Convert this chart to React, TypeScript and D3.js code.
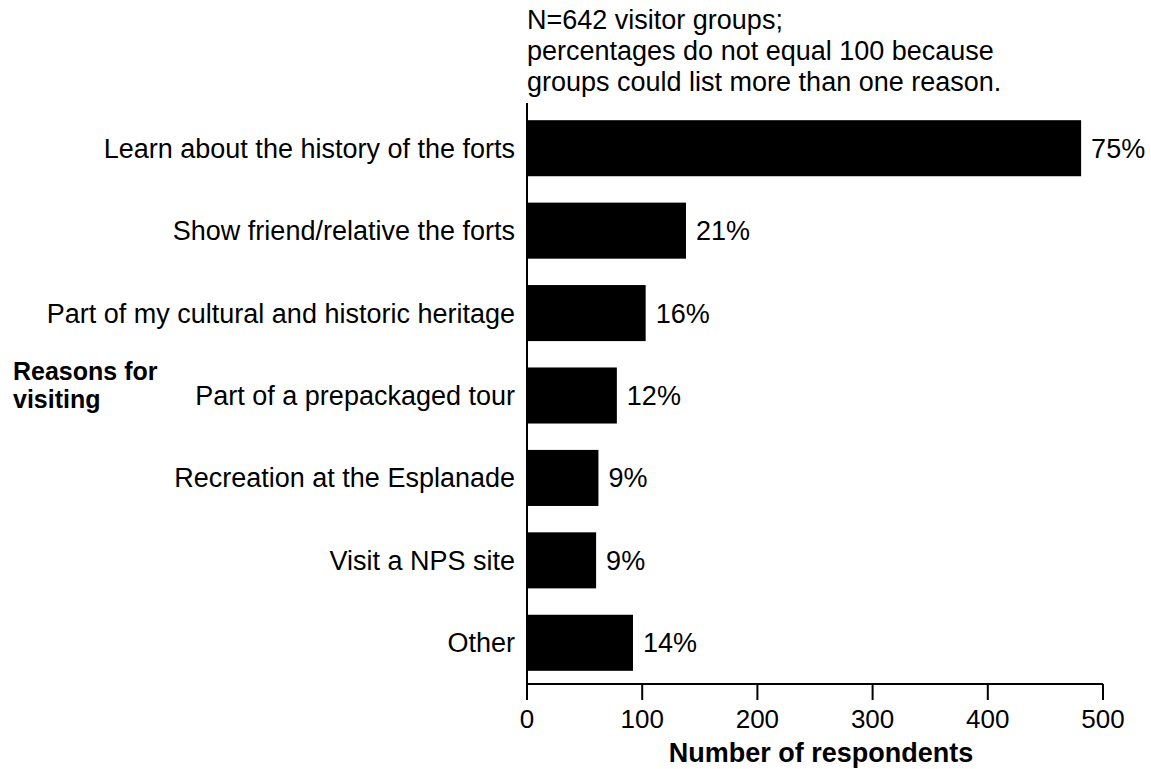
import React from "react";
import * as d3 from "d3";

const categories = [
  "Learn about the history of the forts",
  "Show friend/relative the forts",
  "Part of my cultural and historic heritage",
  "Part of a prepackaged tour",
  "Recreation at the Esplanade",
  "Visit a NPS site",
  "Other",
];
const counts = [481, 138, 103, 78, 62, 60, 92];
const percentLabels = ["75%", "21%", "16%", "12%", "9%", "9%", "14%"];
const xTicks = [0, 100, 200, 300, 400, 500];
const noteLines = [
  "N=642 visitor groups;",
  "percentages do not equal 100 because",
  "groups could list more than one reason.",
];

export default function App() {
  const W = 1151;
  const H = 769;
  const x = d3.scaleLinear().domain([0, 500]).range([527, 1103]);
  const y = d3.scaleBand<string>().domain(categories).range([107, 684]).paddingInner(0.32).paddingOuter(0.16);
  const font = "Liberation Sans, Arial, sans-serif";
  const fs = 27;
  return (
    <svg width={W} height={H} style={{ position: "absolute", left: 0, top: 0 }} fontFamily={font}>
      <rect width={W} height={H} fill="#fff" />
      {noteLines.map((t, i) => (
        <text key={i} x={527} y={29 + i * 31} fontSize={fs} fill="#000">{t}</text>
      ))}
      {categories.map((c, i) => (
        <g key={c}>
          <rect x={x(0)} y={y(c)!} width={x(counts[i]) - x(0)} height={y.bandwidth()} fill="#000" />
          <text x={x(counts[i]) + 10} y={y(c)! + y.bandwidth() / 2} dy="0.35em" fontSize={fs}>{percentLabels[i]}</text>
          <text x={515} y={y(c)! + y.bandwidth() / 2} dy="0.35em" fontSize={fs} textAnchor="end">{c}</text>
        </g>
      ))}
      <line x1={x(0)} x2={x(0)} y1={103} y2={700} stroke="#000" strokeWidth={2} />
      <line x1={x(0)} x2={x(500)} y1={684} y2={684} stroke="#000" strokeWidth={2} />
      {xTicks.map((t) => (
        <g key={t}>
          <line x1={x(t)} x2={x(t)} y1={684} y2={700} stroke="#000" strokeWidth={2} />
          <text x={x(t)} y={728} fontSize={26} textAnchor="middle">{t}</text>
        </g>
      ))}
      <text x={821} y={762} fontSize={27} fontWeight="bold" textAnchor="middle">Number of respondents</text>
      <text x={13} y={380} fontSize={25} fontWeight="bold">Reasons for</text>
      <text x={13} y={408} fontSize={25} fontWeight="bold">visiting</text>
    </svg>
  );
}
